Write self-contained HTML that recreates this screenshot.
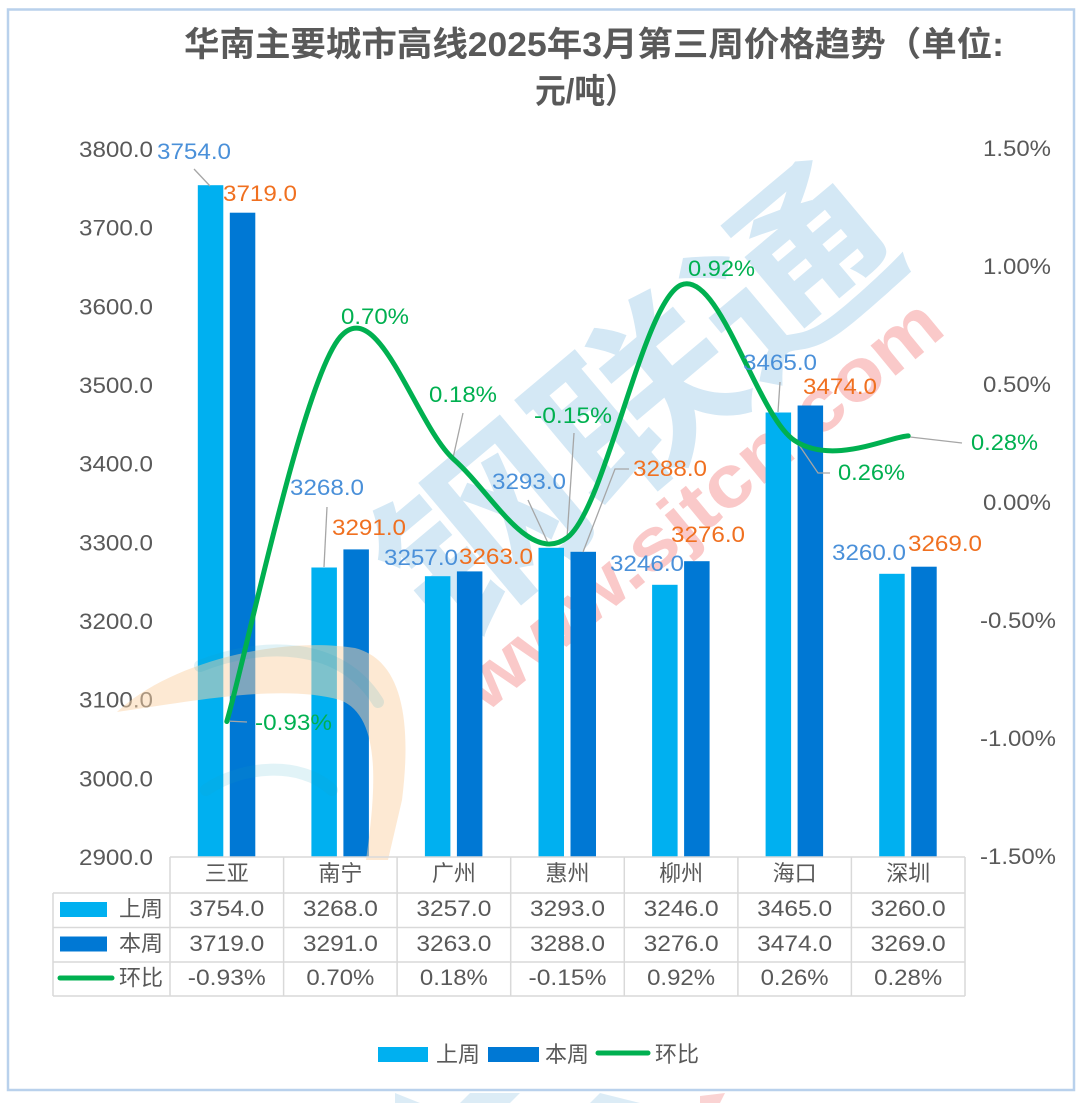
<!DOCTYPE html>
<html>
<head>
<meta charset="utf-8">
<style>
html,body{margin:0;padding:0;background:#fff;}
svg{display:block;}
text{font-family:"Liberation Sans","Noto Sans CJK SC",sans-serif;}
</style>
</head>
<body>
<svg width="1080" height="1103" viewBox="0 0 1080 1103" xmlns="http://www.w3.org/2000/svg">
<rect x="0" y="0" width="1080" height="1103" fill="#ffffff"/>

<!-- watermarks (behind) -->
<g transform="translate(640,405) rotate(-40)">
  <text x="0" y="0" text-anchor="middle" dominant-baseline="central" font-size="180" font-weight="bold" fill="#d4e8f5" textLength="610" lengthAdjust="spacingAndGlyphs">钢联通</text>
</g>
<g transform="translate(485,714) rotate(-39.5)">
  <text x="0" y="0" font-size="74" font-weight="bold" fill="#fac9c9" textLength="600" lengthAdjust="spacingAndGlyphs">www.sjtcn.com</text>
</g>

<!-- frame -->
<rect x="8" y="9.5" width="1066" height="1080.5" fill="none" stroke="#b9d1ec" stroke-width="2.5"/>

<!-- title -->
<text x="184" y="56" font-size="34" font-weight="bold" fill="#595959" textLength="820" lengthAdjust="spacingAndGlyphs">华南主要城市高线2025年3月第三周价格趋势（单位:</text>
<text x="535" y="103" font-size="34" font-weight="bold" fill="#595959" textLength="101" lengthAdjust="spacingAndGlyphs">元/吨）</text>

<!-- left axis labels -->
<g font-size="22" fill="#595959" text-anchor="end">
  <text x="153" y="157" textLength="74" lengthAdjust="spacingAndGlyphs">3800.0</text>
  <text x="153" y="235.7" textLength="74" lengthAdjust="spacingAndGlyphs">3700.0</text>
  <text x="153" y="314.3" textLength="74" lengthAdjust="spacingAndGlyphs">3600.0</text>
  <text x="153" y="393" textLength="74" lengthAdjust="spacingAndGlyphs">3500.0</text>
  <text x="153" y="471.7" textLength="74" lengthAdjust="spacingAndGlyphs">3400.0</text>
  <text x="153" y="550.3" textLength="74" lengthAdjust="spacingAndGlyphs">3300.0</text>
  <text x="153" y="629" textLength="74" lengthAdjust="spacingAndGlyphs">3200.0</text>
  <text x="153" y="707.7" textLength="74" lengthAdjust="spacingAndGlyphs">3100.0</text>
  <text x="153" y="786.3" textLength="74" lengthAdjust="spacingAndGlyphs">3000.0</text>
  <text x="153" y="865" textLength="74" lengthAdjust="spacingAndGlyphs">2900.0</text>
</g>

<!-- right axis labels -->
<g font-size="22" fill="#595959">
  <text x="983" y="156" textLength="68" lengthAdjust="spacingAndGlyphs">1.50%</text>
  <text x="983" y="274" textLength="68" lengthAdjust="spacingAndGlyphs">1.00%</text>
  <text x="983" y="392" textLength="68" lengthAdjust="spacingAndGlyphs">0.50%</text>
  <text x="983" y="510" textLength="68" lengthAdjust="spacingAndGlyphs">0.00%</text>
  <text x="980" y="628" textLength="76" lengthAdjust="spacingAndGlyphs">-0.50%</text>
  <text x="980" y="746" textLength="76" lengthAdjust="spacingAndGlyphs">-1.00%</text>
  <text x="980" y="864" textLength="76" lengthAdjust="spacingAndGlyphs">-1.50%</text>
</g>

<!-- bars 上周 -->
<g fill="#00b0f0">
  <rect x="197.8" y="185.2" width="25.5" height="671.8"/>
  <rect x="311.4" y="567.5" width="25.5" height="289.5"/>
  <rect x="424.9" y="576.2" width="25.5" height="280.8"/>
  <rect x="538.5" y="547.8" width="25.5" height="309.2"/>
  <rect x="652.1" y="584.8" width="25.5" height="272.2"/>
  <rect x="765.6" y="412.5" width="25.5" height="444.5"/>
  <rect x="879.2" y="573.8" width="25.5" height="283.2"/>
</g>
<!-- bars 本周 -->
<g fill="#0078d4">
  <rect x="229.8" y="212.7" width="25.5" height="644.3"/>
  <rect x="343.4" y="549.4" width="25.5" height="307.6"/>
  <rect x="456.9" y="571.4" width="25.5" height="285.6"/>
  <rect x="570.5" y="551.8" width="25.5" height="305.2"/>
  <rect x="684.1" y="561.2" width="25.5" height="295.8"/>
  <rect x="797.6" y="405.5" width="25.5" height="451.5"/>
  <rect x="911.2" y="566.7" width="25.5" height="290.3"/>
</g>

<!-- orange logo watermark (overlay) -->
<g opacity="0.5">
  <path d="M117,712 C170,662 280,636 355,648 C402,660 412,720 402,800 L388,860 L366,860 C376,790 382,716 340,700 C282,684 200,700 117,712 Z" fill="#fcd3a8"/>
</g>
<g opacity="0.13" fill="none" stroke="#1a9fc0" stroke-width="12" stroke-linecap="round">
  <path d="M200,666 C260,642 340,640 378,702"/>
  <path d="M206,790 C240,766 300,760 332,790"/>
</g>

<!-- leader lines -->
<g stroke="#a6a6a6" stroke-width="1.3" fill="none">
  <path d="M194,169 L210,186"/>
  <path d="M327,507 L324,567"/>
  <path d="M463,413 L453,458"/>
  <path d="M528,500 L548,543"/>
  <path d="M574,433 L567,538"/>
  <path d="M629,469 L615,469 L583,552"/>
  <path d="M780,382 L778,412"/>
  <path d="M797,442 L818,473 L830,473"/>
  <path d="M910,437 L962,443"/>
  <path d="M226,721 L247,722"/>
</g>

<!-- green smooth line -->
<path d="M226.8,721.5 C245.7,657.4 302.55,380.5 340.4,336.8 C378.25,293.1 416.05,426.1 453.9,459.5 C491.75,492.9 529.63,566.5 567.5,537.4 C605.37,508.3 643.25,301.0 681.1,284.9 C718.95,268.8 756.75,415.4 794.6,440.6 C832.45,465.8 889.3,436.7 908.2,435.9" fill="none" stroke="#00b050" stroke-width="5" stroke-linecap="round" stroke-linejoin="round"/>

<!-- data labels blue -->
<g font-size="22" fill="#4a90d9">
  <text x="157" y="159" textLength="74" lengthAdjust="spacingAndGlyphs">3754.0</text>
  <text x="290" y="495" textLength="74" lengthAdjust="spacingAndGlyphs">3268.0</text>
  <text x="384" y="565" textLength="74" lengthAdjust="spacingAndGlyphs">3257.0</text>
  <text x="492" y="489" textLength="74" lengthAdjust="spacingAndGlyphs">3293.0</text>
  <text x="610" y="571" textLength="74" lengthAdjust="spacingAndGlyphs">3246.0</text>
  <text x="743" y="370" textLength="74" lengthAdjust="spacingAndGlyphs">3465.0</text>
  <text x="832" y="560" textLength="74" lengthAdjust="spacingAndGlyphs">3260.0</text>
</g>
<!-- data labels orange -->
<g font-size="22" fill="#f07020">
  <text x="223" y="201" textLength="74" lengthAdjust="spacingAndGlyphs">3719.0</text>
  <text x="332" y="535" textLength="74" lengthAdjust="spacingAndGlyphs">3291.0</text>
  <text x="459" y="564" textLength="74" lengthAdjust="spacingAndGlyphs">3263.0</text>
  <text x="633" y="476" textLength="74" lengthAdjust="spacingAndGlyphs">3288.0</text>
  <text x="671" y="542" textLength="74" lengthAdjust="spacingAndGlyphs">3276.0</text>
  <text x="803" y="394" textLength="74" lengthAdjust="spacingAndGlyphs">3474.0</text>
  <text x="908" y="551" textLength="74" lengthAdjust="spacingAndGlyphs">3269.0</text>
</g>
<!-- data labels green -->
<g font-size="22" fill="#00b050">
  <text x="255" y="730" textLength="77" lengthAdjust="spacingAndGlyphs">-0.93%</text>
  <text x="341" y="324" textLength="68" lengthAdjust="spacingAndGlyphs">0.70%</text>
  <text x="429" y="402" textLength="68" lengthAdjust="spacingAndGlyphs">0.18%</text>
  <text x="534" y="423" textLength="78" lengthAdjust="spacingAndGlyphs">-0.15%</text>
  <text x="688" y="276" textLength="67" lengthAdjust="spacingAndGlyphs">0.92%</text>
  <text x="838" y="480" textLength="67" lengthAdjust="spacingAndGlyphs">0.26%</text>
  <text x="971" y="450" textLength="67" lengthAdjust="spacingAndGlyphs">0.28%</text>
</g>

<!-- data table grid -->
<g stroke="#d9d9d9" stroke-width="1.5" fill="none">
  <path d="M170,857 H965"/>
  <path d="M53,893 H965"/>
  <path d="M53,927.5 H965"/>
  <path d="M53,962 H965"/>
  <path d="M53,996 H965"/>
  <path d="M53,893 V996"/>
  <path d="M170,857 V996"/>
  <path d="M283.6,857 V996"/>
  <path d="M397.1,857 V996"/>
  <path d="M510.7,857 V996"/>
  <path d="M624.3,857 V996"/>
  <path d="M737.9,857 V996"/>
  <path d="M851.4,857 V996"/>
  <path d="M965,857 V996"/>
</g>

<!-- table header -->
<g font-size="22" fill="#595959" text-anchor="middle">
  <text x="226.8" y="881">三亚</text>
  <text x="340.4" y="881">南宁</text>
  <text x="453.9" y="881">广州</text>
  <text x="567.5" y="881">惠州</text>
  <text x="681.1" y="881">柳州</text>
  <text x="794.6" y="881">海口</text>
  <text x="908.2" y="881">深圳</text>
</g>

<!-- table row labels -->
<rect x="60" y="902" width="47" height="15" fill="#00b0f0"/>
<rect x="60" y="936.5" width="47" height="15" fill="#0078d4"/>
<path d="M60,978 H112" stroke="#00b050" stroke-width="5" stroke-linecap="round"/>
<g font-size="22" fill="#595959">
  <text x="119" y="916.5">上周</text>
  <text x="119" y="951">本周</text>
  <text x="119" y="985.5">环比</text>
</g>

<!-- table values -->
<g font-size="22" fill="#595959" text-anchor="middle">
  <text x="226.8" y="916" textLength="75" lengthAdjust="spacingAndGlyphs">3754.0</text>
  <text x="340.4" y="916" textLength="75" lengthAdjust="spacingAndGlyphs">3268.0</text>
  <text x="453.9" y="916" textLength="75" lengthAdjust="spacingAndGlyphs">3257.0</text>
  <text x="567.5" y="916" textLength="75" lengthAdjust="spacingAndGlyphs">3293.0</text>
  <text x="681.1" y="916" textLength="75" lengthAdjust="spacingAndGlyphs">3246.0</text>
  <text x="794.6" y="916" textLength="75" lengthAdjust="spacingAndGlyphs">3465.0</text>
  <text x="908.2" y="916" textLength="75" lengthAdjust="spacingAndGlyphs">3260.0</text>

  <text x="226.8" y="951" textLength="75" lengthAdjust="spacingAndGlyphs">3719.0</text>
  <text x="340.4" y="951" textLength="75" lengthAdjust="spacingAndGlyphs">3291.0</text>
  <text x="453.9" y="951" textLength="75" lengthAdjust="spacingAndGlyphs">3263.0</text>
  <text x="567.5" y="951" textLength="75" lengthAdjust="spacingAndGlyphs">3288.0</text>
  <text x="681.1" y="951" textLength="75" lengthAdjust="spacingAndGlyphs">3276.0</text>
  <text x="794.6" y="951" textLength="75" lengthAdjust="spacingAndGlyphs">3474.0</text>
  <text x="908.2" y="951" textLength="75" lengthAdjust="spacingAndGlyphs">3269.0</text>

  <text x="226.8" y="985" textLength="78" lengthAdjust="spacingAndGlyphs">-0.93%</text>
  <text x="340.4" y="985" textLength="68" lengthAdjust="spacingAndGlyphs">0.70%</text>
  <text x="453.9" y="985" textLength="68" lengthAdjust="spacingAndGlyphs">0.18%</text>
  <text x="567.5" y="985" textLength="78" lengthAdjust="spacingAndGlyphs">-0.15%</text>
  <text x="681.1" y="985" textLength="68" lengthAdjust="spacingAndGlyphs">0.92%</text>
  <text x="794.6" y="985" textLength="68" lengthAdjust="spacingAndGlyphs">0.26%</text>
  <text x="908.2" y="985" textLength="68" lengthAdjust="spacingAndGlyphs">0.28%</text>
</g>

<!-- legend -->
<rect x="378" y="1047" width="50" height="15" fill="#00b0f0"/>
<rect x="488" y="1047" width="51" height="15" fill="#0078d4"/>
<path d="M598,1053 H648" stroke="#00b050" stroke-width="5" stroke-linecap="round"/>
<g font-size="22" fill="#595959">
  <text x="436" y="1062">上周</text>
  <text x="545" y="1062">本周</text>
  <text x="655" y="1062">环比</text>
</g>

<!-- watermark fragments below frame -->
<g opacity="0.8">
  <path d="M395,1093 L420,1103 L395,1103 Z" fill="#d4e8f5"/>
  <path d="M470,1093 L520,1093 L510,1103 L460,1103 Z" fill="#d4e8f5"/>
  <path d="M600,1093 L640,1103 L590,1103 Z" fill="#d4e8f5"/>
  <path d="M700,1096 L725,1093 L720,1103 L700,1103 Z" fill="#fac9c9"/>
</g>
</svg>
</body>
</html>
